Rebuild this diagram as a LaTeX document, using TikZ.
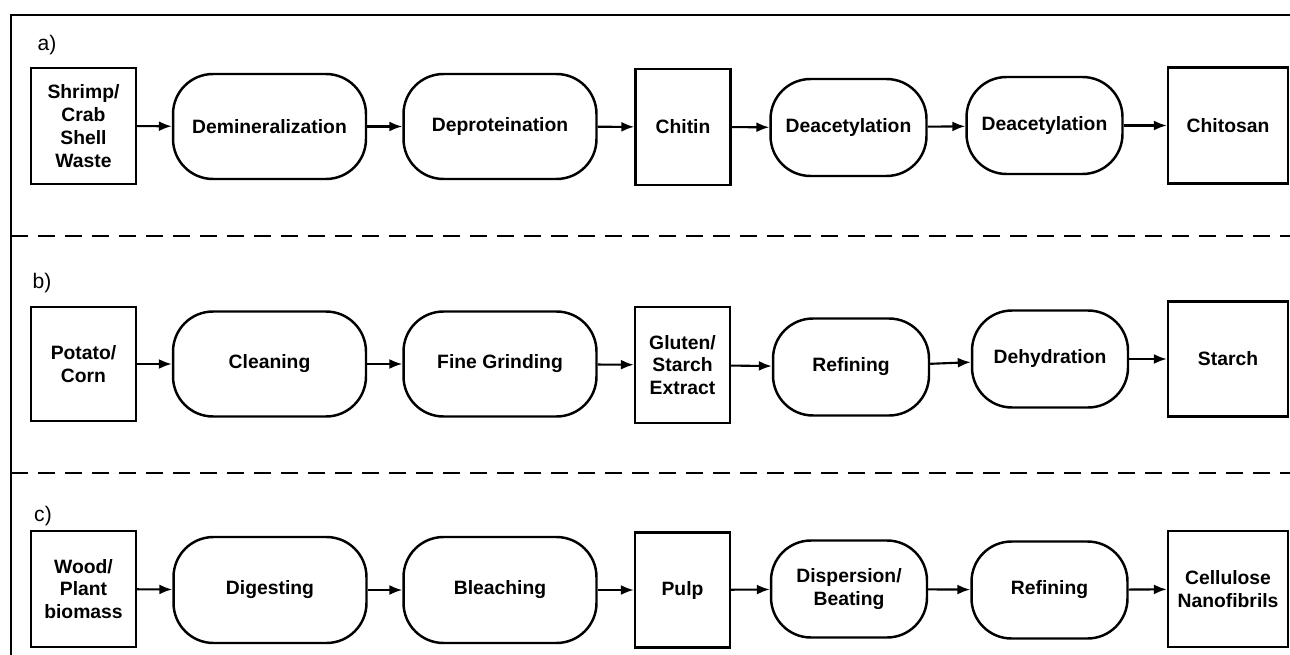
\documentclass[tikz,border=0pt]{standalone}
\usepackage{fontspec}
\setmainfont{Liberation Sans}
\usetikzlibrary{arrows.meta}
\tikzset{
	box/.style={draw, line width=1.4pt, align=center, inner sep=0pt, minimum height=2.32cm, font=\fontsize{11pt}{13pt}\selectfont\bfseries},
	stage/.style={draw, line width=1.4pt, align=center, inner sep=0pt, rounded corners=0.8cm, minimum width=3.86cm, minimum height=2.1cm, font=\fontsize{11pt}{13pt}\selectfont\bfseries},
	substage/.style={stage, minimum width=3.12cm, minimum height=1.94cm},
	flow/.style={line width=1.2pt, -{Latex[length=2.6mm,width=2mm]}},
	part/.style={font=\fontsize{12pt}{14pt}\selectfont},
	divider/.style={line width=1.4pt, dash pattern=on 0.34cm off 0.2cm}
}

\begin{document}
\begin{tikzpicture}[x=0.02cm, y=-0.02cm]
			%%%%% START %%%%%
			\useasboundingbox (0, 0) rectangle (1290, 655);
			
			\draw[line width=1.6pt] (1290, 15) -- (11, 15) -- (11, 655);
			\draw[divider] (11, 236) -- (1290, 236);
			\draw[divider] (11, 473) -- (1290, 473);
			
			% a) chitosan
			\node[part] (parta) at (47, 45) {a)};
			\node[box, minimum width=2.1cm] (shrimp) at (83.5, 126) {Shrimp/\\Crab\\Shell\\Waste};
			\node[stage] (demin) at (269.5, 126.5) {Demineralization};
			\node[stage] (deprot) at (500, 126.5) {Deproteination};
			\node[box, minimum width=1.9cm] (chitin) at (683, 127) {Chitin};
			\node[substage] (deaca) at (848.5, 127.5) {Deacetylation};
			\node[substage] (deacb) at (1044.5, 125.5) {Deacetylation};
			\node[box, minimum width=2.4cm] (chitosan) at (1228, 125.5) {Chitosan};
			
			\draw[flow] (shrimp) -- (demin);
			\draw[flow] (demin) -- (deprot);
			\draw[flow] (deprot) -- (chitin);
			\draw[flow] (chitin) -- (deaca);
			\draw[flow] (deaca) -- (deacb);
			\draw[flow] (deacb) -- (chitosan);
			
			% b) starch
			\node[part] (partb) at (42, 283) {b)};
			\node[box, minimum width=2.1cm, minimum height=2.28cm] (potato) at (83.5, 364) {Potato/\\Corn};
			\node[stage] (clean) at (269.5, 364) {Cleaning};
			\node[stage] (grind) at (500, 364) {Fine Grinding};
			\node[box, minimum width=1.9cm] (gluten) at (682.5, 365) {Gluten/\\Starch\\Extract};
			\node[substage] (refinea) at (851, 367) {Refining};
			\node[substage] (dehyd) at (1050, 359) {Dehydration};
			\node[box, minimum width=2.4cm, minimum height=2.3cm] (starch) at (1228, 359) {Starch};
			
			\draw[flow] (potato) -- (clean);
			\draw[flow] (clean) -- (grind);
			\draw[flow] (grind) -- (gluten);
			\draw[flow] (gluten) -- (refinea);
			\draw[flow] (refinea) -- (dehyd);
			\draw[flow] (dehyd) -- (starch);
			
			% c) cellulose
			\node[part] (partc) at (43, 516) {c)};
			\node[box, minimum width=2.1cm] (wood) at (83.5, 589) {Wood/\\Plant\\biomass};
			\node[stage, minimum height=2.12cm] (digest) at (270, 590) {Digesting};
			\node[stage, minimum height=2.12cm] (bleach) at (500, 590) {Bleaching};
			\node[box, minimum width=1.9cm, minimum height=2.3cm] (pulp) at (682.5, 590) {Pulp};
			\node[substage] (disp) at (849, 589) {Dispersion/\\Beating};
			\node[substage] (refineb) at (1049.5, 590) {Refining};
			\node[box, minimum width=2.4cm] (cnf) at (1228, 589) {Cellulose\\Nanofibrils};
			
			\draw[flow] (wood) -- (digest);
			\draw[flow] (digest) -- (bleach);
			\draw[flow] (bleach) -- (pulp);
			\draw[flow] (pulp) -- (disp);
			\draw[flow] (disp) -- (refineb);
			\draw[flow] (refineb) -- (cnf);
			
			%%%%% END %%%%%
\end{tikzpicture}
\end{document}
